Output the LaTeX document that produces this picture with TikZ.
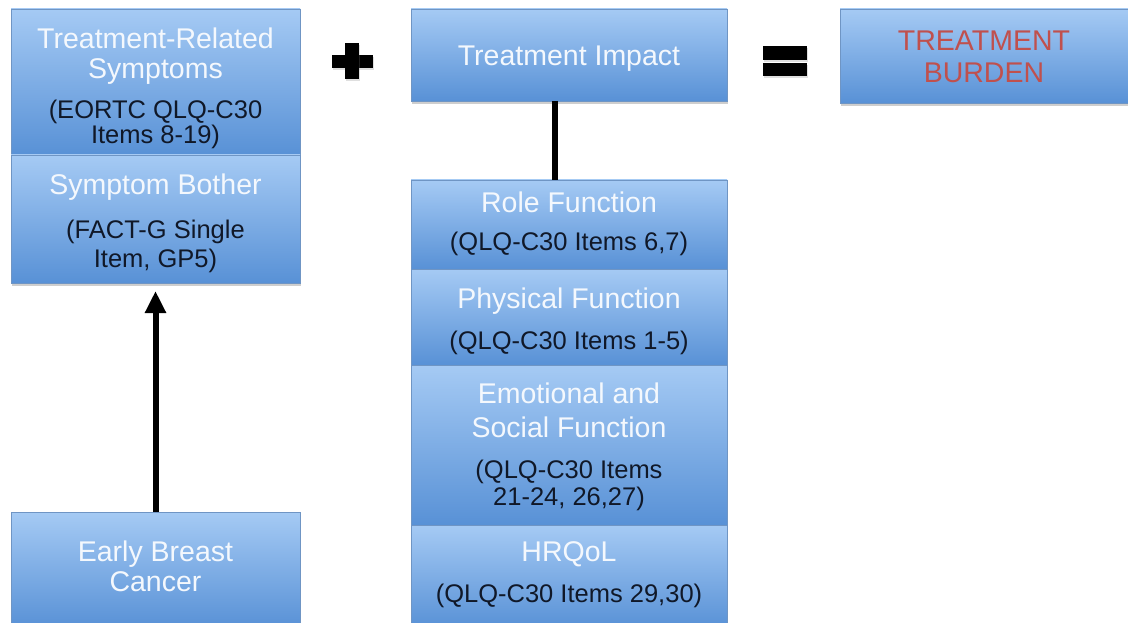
\documentclass[tikz,border=0pt]{standalone}
\usepackage{fontspec}
\setmainfont{Liberation Sans}
\usetikzlibrary{arrows.meta,shadows}
\definecolor{boxtop}{HTML}{A5CAF4}
\definecolor{boxbot}{HTML}{5891D6}
\definecolor{boxline}{HTML}{6F95C4}
\definecolor{subtxt}{HTML}{101828}
\definecolor{ttltxt}{HTML}{F4F8FD}
\definecolor{burden}{HTML}{C0504D}
\tikzset{
  blk/.style={rectangle, anchor=north west, inner sep=0pt, outer sep=0pt,
    draw=boxline, line width=0.6pt, top color=boxtop, bottom color=boxbot,
    drop shadow={shadow xshift=1pt, shadow yshift=-3pt, opacity=0.35, fill=black!55}},
  ttl/.style={anchor=base, inner sep=0pt, text=ttltxt, font=\fontsize{28.5}{28.5}\selectfont},
  redttl/.style={ttl, text=burden},
  sub/.style={anchor=base, inner sep=0pt, text=subtxt, font=\fontsize{25.5}{25.5}\selectfont},
  conn/.style={line width=6pt, black},
  sign/.style={fill=black, drop shadow={shadow xshift=1pt, shadow yshift=-2pt, opacity=0.25}}
}
\begin{document}
\begin{tikzpicture}[x=1pt,y=-1pt]
\useasboundingbox (0,0) rectangle (1128,623);
\clip (0,0) rectangle (1128,623);
\fill[white] (0,0) rectangle (1128,623);
% boxes
\node[blk, minimum width=289pt, minimum height=146pt] (b1) at (11,9) {};
\node[blk, minimum width=289pt, minimum height=128pt] (b2) at (11,155) {};
\node[blk, minimum width=289pt, minimum height=116pt] (ebc) at (11,512) {};
\node[blk, minimum width=316pt, minimum height=92pt] (ti) at (411,9) {};
\node[blk, minimum width=289pt, minimum height=94pt] (tb) at (840,9) {};
\node[blk, minimum width=316pt, minimum height=89pt] (role) at (411,180) {};
\node[blk, minimum width=316pt, minimum height=96pt] (phys) at (411,269) {};
\node[blk, minimum width=316pt, minimum height=160pt] (emo) at (411,365) {};
\node[blk, minimum width=316pt, minimum height=103pt] (hrq) at (411,525) {};
% signs
\path[sign] (332,55) rectangle (373,68);
\path[sign] (345,43) rectangle (359,79);
\path[sign] (763,46) rectangle (807,60);
\path[sign] (763,63) rectangle (807,76);
% connectors
\draw[conn, -{Triangle[width=20pt,length=22pt]}, shorten >=8pt] (ebc.north) -- (b2.south);
\draw[conn] ([xshift=-14pt]ti.south) -- ([xshift=-14pt]role.north);
% texts left
\node[ttl] (t1a) at (155.5,49) {Treatment-Related};
\node[ttl] (t1b) at (155.5,79) {Symptoms};
\node[sub] (s1a) at (155.5,119) {(EORTC QLQ-C30};
\node[sub] (s1b) at (155.5,144) {Items 8-19)};
\node[ttl] (t2) at (155.5,194) {Symptom Bother};
\node[sub] (s2a) at (155.5,238) {(FACT-G Single};
\node[sub] (s2b) at (155.5,267) {Item, GP5)};
\node[ttl] (t3a) at (155.5,561) {Early Breast};
\node[ttl] (t3b) at (155.5,591) {Cancer};
% texts middle
\node[ttl] (t4) at (569,66) {Treatment Impact};
\node[ttl] (t5) at (569,213) {Role Function};
\node[sub] (s5) at (569,250) {(QLQ-C30 Items 6,7)};
\node[ttl] (t6) at (569,308) {Physical Function};
\node[sub] (s6) at (569,349) {(QLQ-C30 Items 1-5)};
\node[ttl] (t7a) at (569,403) {Emotional and};
\node[ttl] (t7b) at (569,437) {Social Function};
\node[sub] (s7a) at (569,478) {(QLQ-C30 Items};
\node[sub] (s7b) at (569,505) {21-24, 26,27)};
\node[ttl] (t8) at (569,561) {HRQoL};
\node[sub] (s8) at (569,602) {(QLQ-C30 Items 29,30)};
% texts right
\node[redttl] (t9a) at (984,51) {TREATMENT};
\node[redttl] (t9b) at (984,83) {BURDEN};
\end{tikzpicture}
\end{document}
